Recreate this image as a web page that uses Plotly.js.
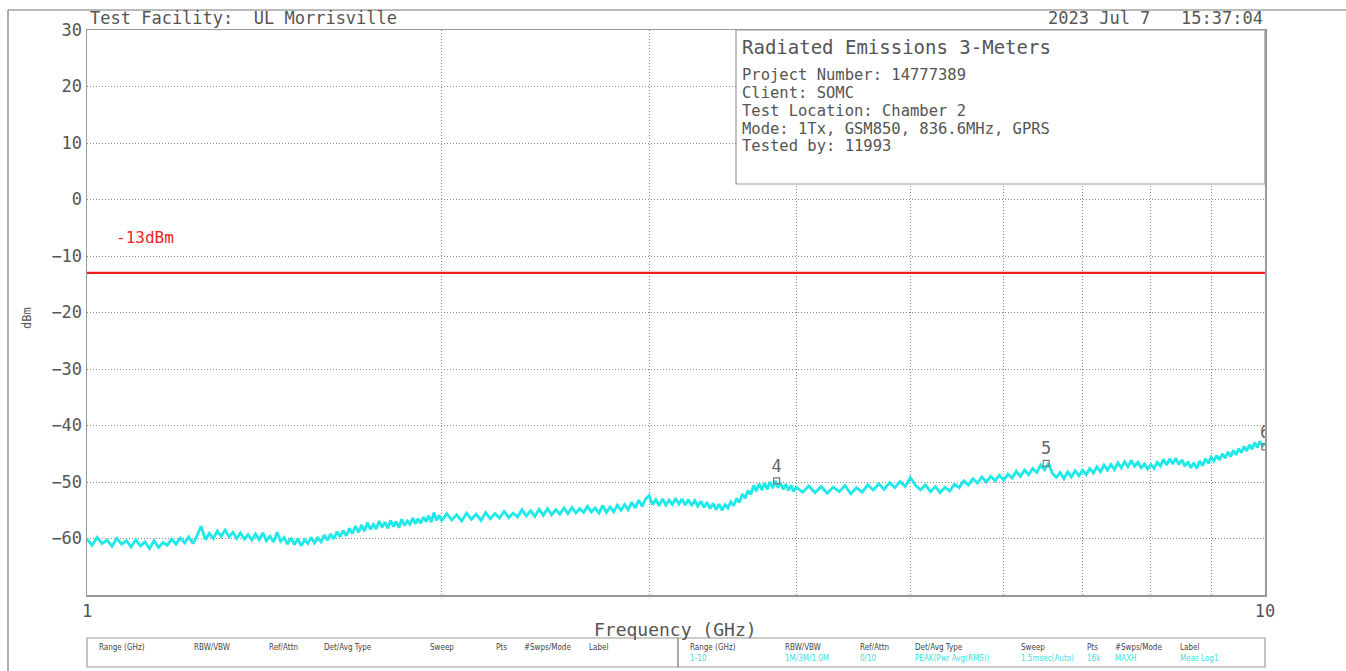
<!DOCTYPE html>
<html>
<head>
<meta charset="utf-8">
<script src="https://cdn.plot.ly/plotly-3.0.1.min.js"></script>
<style>html,body{margin:0;padding:0;background:#fff;}#chart{width:1346px;height:671px;}</style>
</head>
<body>
<div id="chart"></div>
<script>
// ---- Data ----
const freqGHz = [
1.00,1.01,1.02,1.03,1.04,1.05,1.06,1.07,1.08,1.09,1.10,1.11,1.12,1.13,1.14,1.15,1.16,1.17,1.18,1.19,
1.20,1.21,1.22,1.23,1.24,1.25,1.26,1.27,1.28,1.29,1.30,1.31,1.32,1.33,1.34,1.35,1.36,1.37,1.38,1.39,
1.40,1.41,1.42,1.43,1.44,1.45,1.46,1.47,1.48,1.49,1.50,1.51,1.52,1.53,1.54,1.55,1.56,1.57,1.58,1.59,
1.60,1.61,1.62,1.63,1.64,1.65,1.66,1.67,1.68,1.69,1.70,1.71,1.72,1.73,1.74,1.75,1.76,1.77,1.78,1.79,
1.80,1.81,1.82,1.83,1.84,1.85,1.86,1.87,1.88,1.89,1.90,1.91,1.92,1.93,1.94,1.95,1.96,1.97,1.98,1.99,2.00,
2.02,2.04,2.06,2.08,2.10,2.12,2.14,2.16,2.18,2.20,2.22,2.24,2.26,2.28,2.30,2.32,2.34,2.36,2.38,2.40,
2.42,2.44,2.46,2.48,2.50,2.52,2.54,2.56,2.58,2.60,2.62,2.64,2.66,2.68,2.70,2.72,2.74,2.76,2.78,2.80,
2.82,2.84,2.86,2.88,2.90,2.92,2.94,2.96,2.98,3.00,3.02,3.04,3.06,3.08,3.10,3.12,3.14,3.16,3.18,3.20,
3.22,3.24,3.26,3.28,3.30,3.32,3.34,3.36,3.38,3.40,3.42,3.44,3.46,3.48,3.50,3.52,3.54,3.56,3.58,3.60,
3.62,3.64,3.66,3.68,3.70,3.72,3.74,3.76,3.78,3.80,3.82,3.84,3.86,3.88,3.90,3.92,3.94,3.96,3.98,4.00,
4.05,4.10,4.15,4.20,4.25,4.30,4.35,4.40,4.45,4.50,4.55,4.60,4.65,4.70,4.75,4.80,4.85,4.90,4.95,5.00,
5.05,5.10,5.15,5.20,5.25,5.30,5.35,5.40,5.45,5.50,5.55,5.60,5.65,5.70,5.75,5.80,5.85,5.90,5.95,6.00,
6.05,6.10,6.15,6.20,6.25,6.30,6.35,6.40,6.45,6.50,6.55,6.60,6.65,6.70,6.75,6.80,6.85,6.90,6.95,7.00,
7.05,7.10,7.15,7.20,7.25,7.30,7.35,7.40,7.45,7.50,7.55,7.60,7.65,7.70,7.75,7.80,7.85,7.90,7.95,8.00,
8.05,8.10,8.15,8.20,8.25,8.30,8.35,8.40,8.45,8.50,8.55,8.60,8.65,8.70,8.75,8.80,8.85,8.90,8.95,9.00,
9.05,9.10,9.15,9.20,9.25,9.30,9.35,9.40,9.45,9.50,9.55,9.60,9.65,9.70,9.75,9.80,9.85,9.90,9.95,10.00
];
const levelDbm = [
-60.1,-61.2,-59.8,-60.9,-60.3,-61.4,-60.0,-61.0,-60.4,-61.5,-60.2,-61.3,-60.6,-61.8,-60.4,-61.6,-60.7,-61.2,-60.1,-61.0,
-59.9,-60.8,-59.7,-60.9,-59.5,-57.8,-60.2,-59.1,-60.0,-58.7,-59.6,-58.5,-59.7,-58.9,-60.0,-59.0,-60.1,-59.3,-60.3,-59.2,
-60.2,-59.0,-60.4,-59.6,-60.6,-58.9,-60.5,-59.8,-61.0,-59.9,-61.1,-60.0,-61.3,-60.2,-60.9,-59.8,-60.8,-59.9,-60.6,-59.4,
-60.3,-59.2,-60.1,-58.8,-59.7,-58.6,-59.5,-58.2,-59.1,-57.8,-58.9,-57.6,-58.7,-57.2,-58.4,-57.5,-58.3,-56.9,-58.0,-57.1,
-58.2,-56.8,-57.9,-57.0,-58.1,-56.6,-57.7,-56.9,-57.5,-56.4,-57.4,-56.5,-57.3,-56.2,-57.0,-56.0,-57.1,-55.4,-56.8,-55.9,-56.9,
-55.6,-56.7,-55.8,-56.9,-55.5,-56.6,-55.7,-56.8,-55.4,-56.5,-55.6,-56.4,-55.2,-56.3,-55.5,-56.2,-54.9,-56.0,-55.1,-56.1,
-54.8,-55.9,-54.7,-55.8,-54.9,-55.7,-54.6,-55.6,-54.5,-55.5,-54.7,-55.4,-54.3,-55.3,-54.6,-55.5,-54.2,-55.4,-54.4,-55.3,
-54.1,-55.0,-54.0,-54.9,-53.6,-54.6,-53.2,-54.3,-53.0,-52.4,-54.0,-53.1,-54.2,-53.0,-54.1,-53.2,-54.0,-52.9,-53.9,-53.0,
-54.1,-53.1,-54.2,-53.3,-54.3,-53.4,-54.5,-53.6,-54.7,-53.8,-54.9,-53.9,-55.0,-54.0,-54.6,-53.5,-54.2,-52.9,-53.6,-52.1,
-52.9,-51.5,-52.2,-50.6,-51.6,-50.3,-51.4,-50.2,-51.3,-50.0,-51.1,-49.8,-51.0,-50.2,-51.3,-50.4,-51.5,-50.6,-51.7,-50.9,
-51.8,-50.7,-51.9,-50.8,-52.0,-50.9,-51.7,-50.6,-52.1,-51.0,-51.8,-50.5,-51.4,-50.3,-51.3,-50.1,-51.0,-49.9,-50.8,-49.2,
-50.6,-51.4,-50.5,-51.7,-50.8,-51.9,-50.9,-51.6,-50.4,-51.0,-49.8,-50.5,-49.4,-50.2,-49.1,-50.0,-49.0,-49.8,-48.8,-49.7,
-48.6,-49.3,-48.1,-49.0,-47.9,-48.7,-47.6,-48.3,-47.0,-47.8,-46.7,-48.5,-49.2,-48.3,-49.4,-48.2,-49.1,-48.0,-48.9,-47.9,
-48.7,-47.6,-48.4,-47.3,-48.2,-47.0,-47.9,-46.9,-47.8,-46.6,-47.5,-46.4,-47.3,-46.2,-47.2,-46.5,-47.5,-46.8,-47.7,-46.9,
-47.6,-46.5,-47.2,-46.0,-47.0,-45.9,-46.8,-45.8,-46.9,-46.1,-47.2,-46.4,-47.5,-46.6,-47.6,-46.3,-47.1,-45.9,-46.7,-45.6,
-46.3,-45.3,-46.1,-45.0,-45.8,-44.7,-45.5,-44.4,-45.2,-44.1,-44.8,-43.7,-44.5,-43.4,-44.2,-43.0,-43.9,-42.8,-43.6,-43.2
];
const limitFreq = [1, 10];
const limitLevel = [-13, -13];
const limitLabel = "-13dBm";
const markerFreq = [3.85, 6.52, 10.0];
const markerLevel = [-49.8, -46.7, -43.8];
const markerNames = ["4", "5", "6"];
const yTickVals = [30, 20, 10, 0, -10, -20, -30, -40, -50, -60];
const xTickVals = [1, 2, 3, 4, 5, 6, 7, 8, 9, 10];
const xTickText = ["1", "", "", "", "", "", "", "", "", "10"];
const infoTitle = "Radiated Emissions 3-Meters";
const infoLines = [
  "Project Number: 14777389",
  "Client: SOMC",
  "Test Location: Chamber 2",
  "Mode: 1Tx, GSM850, 836.6MHz, GPRS",
  "Tested by: 11993"
];
const facilityText = "Test Facility:  UL Morrisville";
const dateText = "2023 Jul 7   15:37:04";
const tableHeaders = ["Range (GHz)", "RBW/VBW", "Ref/Attn", "Det/Avg Type", "Sweep", "Pts", "#Swps/Mode", "Label"];
const tableValues = ["1-10", "1M/3M/1.0M", "0/10", "PEAK(Pwr Avg(RMS))", "1.5msec(Auto)", "16k", "MAXH", "Meas Log1"];

// ---- Layout helpers (pixel -> paper) ----
const W = 1346, H = 671, L = 87, R = 1265, T = 30, B = 595;
const px = x => (x - L) / (R - L);
const py = y => (B - y) / (B - T);
const mono = "DejaVu Sans Mono, monospace";
const grey = "#555";

const traces = [
  {
    x: freqGHz, y: levelDbm, type: "scatter", mode: "lines",
    line: {color: "#1ee8e8", width: 2.8}, hoverinfo: "skip"
  },
  {
    x: limitFreq, y: limitLevel, type: "scatter", mode: "lines",
    line: {color: "#ee1c1c", width: 2.2}, hoverinfo: "skip"
  },
  {
    x: markerFreq, y: markerLevel, type: "scatter", mode: "markers+text",
    text: markerNames, textposition: "top center",
    textfont: {family: mono, size: 17, color: "#666"},
    marker: {symbol: "square-open", size: 6, color: "#777", line: {width: 1.2}},
    hoverinfo: "skip"
  }
];

const annotations = [];
const shapes = [];

// Outer page border (top and left)
shapes.push({type: "line", xref: "paper", yref: "paper", x0: px(8), x1: px(W), y0: py(10), y1: py(10), line: {color: "#777", width: 1.2}});
shapes.push({type: "line", xref: "paper", yref: "paper", x0: px(8), x1: px(8), y0: py(10), y1: py(H), line: {color: "#777", width: 1.2}});

// Header texts
annotations.push({xref: "paper", yref: "paper", x: px(88), y: py(18), xanchor: "left", yanchor: "middle", showarrow: false,
  text: facilityText, font: {family: mono, size: 17, color: grey}});
annotations.push({xref: "paper", yref: "paper", x: px(1265), y: py(18), xanchor: "right", yanchor: "middle", showarrow: false,
  text: dateText, font: {family: mono, size: 17, color: grey}});

// Info box
shapes.push({type: "rect", xref: "paper", yref: "paper", layer: "above", x0: px(736), x1: px(1265), y0: py(30), y1: py(184),
  fillcolor: "#fff", line: {color: "#999", width: 1.2}});
annotations.push({xref: "paper", yref: "paper", x: px(740), y: py(47), xanchor: "left", yanchor: "middle", showarrow: false,
  text: infoTitle, font: {family: mono, size: 19, color: grey}});
const infoY = [75, 93, 111, 129, 146];
infoLines.forEach((t, i) => annotations.push({xref: "paper", yref: "paper", x: px(740), y: py(infoY[i]), xanchor: "left", yanchor: "middle",
  showarrow: false, text: t, font: {family: mono, size: 15.5, color: grey}}));

// Limit label
annotations.push({xref: "paper", yref: "paper", x: px(114), y: py(237), xanchor: "left", yanchor: "middle", showarrow: false,
  text: limitLabel, font: {family: mono, size: 16, color: "#ee2222"}});

// Axis titles
annotations.push({xref: "paper", yref: "paper", x: px(27), y: py(318), xanchor: "center", yanchor: "middle", showarrow: false,
  textangle: -90, text: "dBm", font: {family: mono, size: 12, color: grey}});
annotations.push({xref: "paper", yref: "paper", x: px(675), y: py(629), xanchor: "center", yanchor: "middle", showarrow: false,
  text: "Frequency (GHz)", font: {family: mono, size: 18, color: grey}});

// Bottom settings tables
const boxTop = 638, boxBot = 667;
shapes.push({type: "rect", xref: "paper", yref: "paper", x0: px(87), x1: px(678), y0: py(boxTop), y1: py(boxBot), line: {color: "#999", width: 1.2}});
shapes.push({type: "rect", xref: "paper", yref: "paper", x0: px(678), x1: px(1265), y0: py(boxTop), y1: py(boxBot), line: {color: "#999", width: 1.2}});
const colOffsets = [10, 105, 180, 235, 341, 407, 435, 500];
const cond = "DejaVu Sans Condensed, DejaVu Sans, sans-serif";
[87, 678].forEach((x0, b) => {
  tableHeaders.forEach((h, i) => annotations.push({xref: "paper", yref: "paper", x: px(x0 + colOffsets[i]), y: py(647), xanchor: "left", yanchor: "middle",
    showarrow: false, text: h, font: {family: cond, size: 8, color: "#444"}}));
  if (b === 1) {
    tableValues.forEach((v, i) => annotations.push({xref: "paper", yref: "paper", x: px(x0 + colOffsets[i]), y: py(658), xanchor: "left", yanchor: "middle",
      showarrow: false, text: v, font: {family: cond, size: 8, color: "#3adede"}}));
  }
});

const layout = {
  width: W, height: H,
  margin: {l: L, r: W - R, t: T, b: H - B, pad: 0},
  paper_bgcolor: "#fff", plot_bgcolor: "#fff",
  showlegend: false,
  xaxis: {
    type: "log", range: [0, 1], tickvals: xTickVals, ticktext: xTickText, ticks: "",
    showgrid: true, gridcolor: "#8a8a8a", griddash: "1px,2px", gridwidth: 1,
    showline: true, mirror: true, linecolor: "#999", linewidth: 1.5, zeroline: false,
    tickfont: {family: mono, size: 17, color: grey}
  },
  yaxis: {
    range: [-70, 30], tickvals: yTickVals, ticks: "",
    showgrid: true, gridcolor: "#8a8a8a", griddash: "1px,2px", gridwidth: 1,
    showline: true, mirror: true, linecolor: "#999", linewidth: 1.5, zeroline: false,
    tickfont: {family: mono, size: 17, color: grey}
  },
  shapes: shapes,
  annotations: annotations
};

Plotly.newPlot("chart", traces, layout, {staticPlot: true, displayModeBar: false});
</script>
</body>
</html>
